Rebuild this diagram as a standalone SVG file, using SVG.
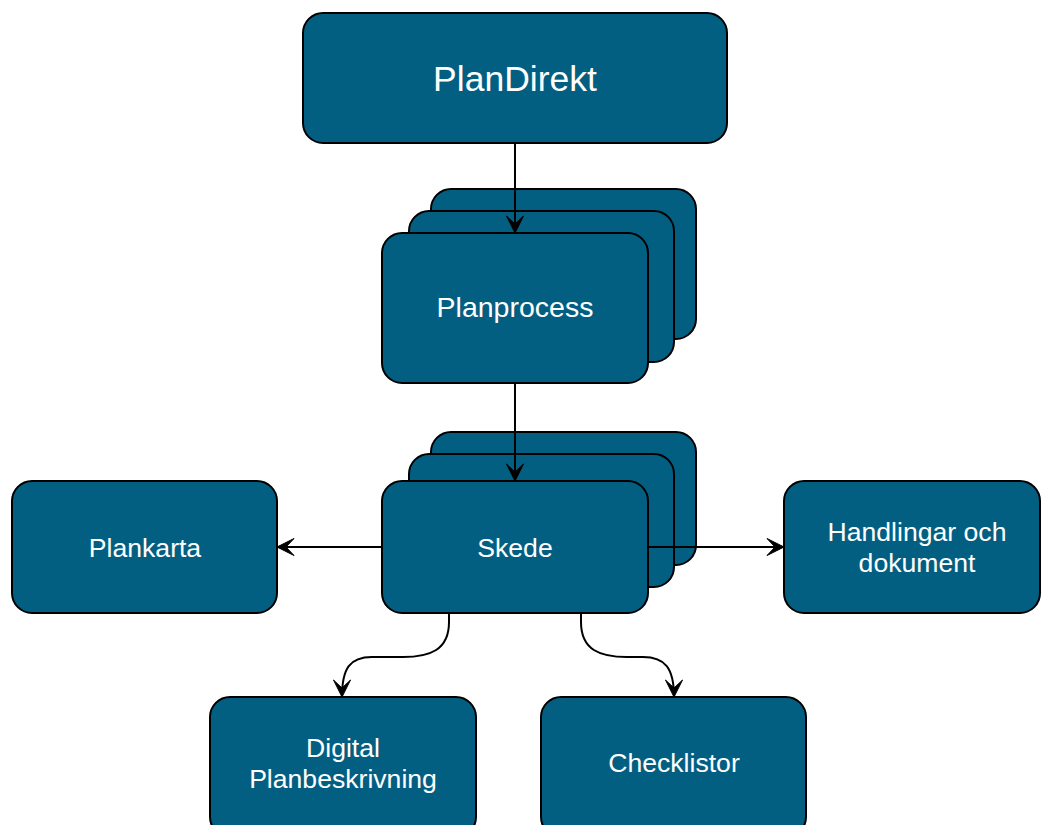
<svg xmlns="http://www.w3.org/2000/svg" width="1041" height="825" viewBox="0 0 1041 825">
<style>
.box{fill:#035f82;stroke:#000;stroke-width:2}
.t{fill:#fff;font-family:"Liberation Sans",Arial,sans-serif;font-size:26.6px;text-anchor:middle}
.edge{fill:none;stroke:#000;stroke-width:2}
</style>
<defs>
<marker id="arr" markerUnits="userSpaceOnUse" markerWidth="20" markerHeight="20" viewBox="-18 -10 20 20" refX="0" refY="0" orient="auto">
<path d="M0,0 L-17,-8.5 L-9,0 L-17,8.5 Z" fill="#000" stroke="#000" stroke-width="1"/>
</marker>
</defs>
<rect width="1041" height="825" fill="#fff"/>
<g id="plandirekt">
<rect class="box" x="303" y="13" width="424" height="130" rx="20"/>
<text class="t" x="515" y="91" style="font-size:35.5px">PlanDirekt</text>
</g>
<g id="planprocess">
<rect class="box" x="431" y="189" width="265" height="150" rx="20"/>
<rect class="box" x="409" y="211" width="265" height="151" rx="20"/>
<rect class="box" x="382" y="233" width="266" height="150" rx="20"/>
<text class="t" x="515" y="317" style="font-size:28.5px">Planprocess</text>
</g>
<g id="skede">
<rect class="box" x="431" y="432" width="265" height="133" rx="20"/>
<rect class="box" x="409" y="454" width="265" height="133" rx="20"/>
<rect class="box" x="382" y="481" width="266" height="132" rx="20"/>
<text class="t" x="515" y="557">Skede</text>
</g>
<g id="plankarta">
<rect class="box" x="12" y="481" width="265" height="132" rx="20"/>
<text class="t" x="145" y="557">Plankarta</text>
</g>
<g id="handlingar">
<rect class="box" x="784" y="481" width="256" height="132" rx="20"/>
<text class="t" x="917" y="541">Handlingar och</text>
<text class="t" x="917" y="572">dokument</text>
</g>
<g id="digital">
<rect class="box" x="210" y="697" width="266" height="140" rx="20"/>
<text class="t" x="343" y="757">Digital</text>
<text class="t" x="343" y="788">Planbeskrivning</text>
</g>
<g id="checklistor">
<rect class="box" x="541" y="697" width="265" height="140" rx="20"/>
<text class="t" x="674" y="772">Checklistor</text>
</g>
<g id="connectors">
<path class="edge" d="M515,143 L515,233" marker-end="url(#arr)"/>
<path class="edge" d="M515,383 L515,481" marker-end="url(#arr)"/>
<path class="edge" d="M382,547 L277,547" marker-end="url(#arr)"/>
<path class="edge" d="M648,547 L784,547" marker-end="url(#arr)"/>
<path class="edge" d="M449,613 L449,622 C449,650 430,657 403,657 L372,657 C350,657 342,668 342,697" marker-end="url(#arr)"/>
<path class="edge" d="M581,613 L581,622 C581,650 600,657 627,657 L643,657 C665,657 674,668 674,697" marker-end="url(#arr)"/>
</g>
</svg>
